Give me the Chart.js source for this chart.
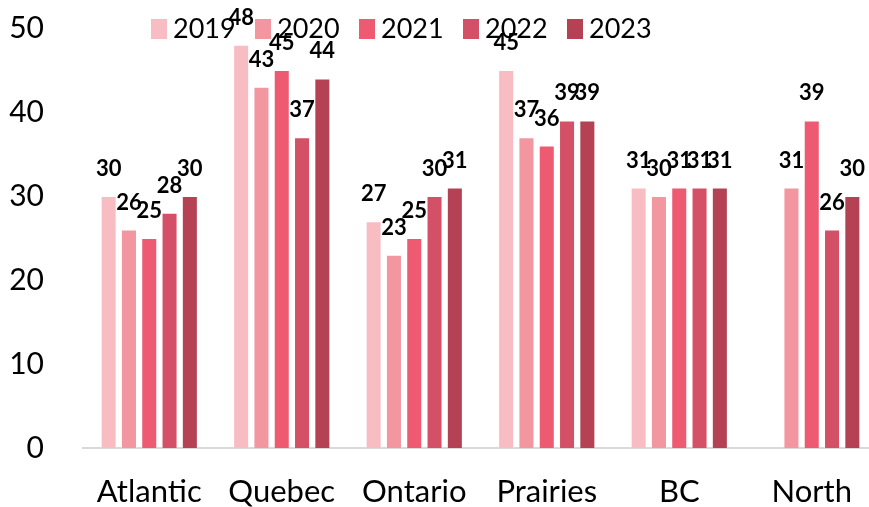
<!DOCTYPE html>
<html><head><meta charset="utf-8">
<script src="https://cdn.jsdelivr.net/npm/chart.js@4.4.1/dist/chart.umd.min.js"></script>
<style>
html,body{margin:0;padding:0;overflow:hidden;background:#fff;width:869px;height:507px}
#wrap{width:878px;height:507px}
</style></head>
<body><div id="wrap"><canvas id="c" width="878" height="507"></canvas></div>
<script>
const categories = ['Atlantic', 'Quebec', 'Ontario', 'Prairies', 'BC', 'North'];
const seriesNames = ['2019', '2020', '2021', '2022', '2023'];
const v2019 = [30, 48, 27, 45, 31, null];
const v2020 = [26, 43, 23, 37, 30, 31];
const v2021 = [25, 45, 25, 36, 31, 39];
const v2022 = [28, 37, 30, 39, 31, 26];
const v2023 = [30, 44, 31, 39, 31, 30];
const yTicks = [0, 10, 20, 30, 40, 50];
const colors = ['#f7bdc3', '#f2969f', '#ef5a73', '#d45066', '#b44254'];

const seriesValues = [v2019, v2020, v2021, v2022, v2023];

const valueLabels = {
  id: 'valueLabels',
  afterDatasetsDraw(chart) {
    const ctx = chart.ctx;
    ctx.save();
    ctx.font = 'bold 22px Lato';
    ctx.fillStyle = '#000';
    ctx.textAlign = 'center';
    ctx.textBaseline = 'alphabetic';
    chart.data.datasets.forEach((ds, i) => {
      chart.getDatasetMeta(i).data.forEach((bar, j) => {
        const v = ds.data[j];
        if (v == null) return;
        ctx.fillText(String(v), bar.x, bar.y - 20);
      });
    });
    ctx.restore();
  }
};

const topLegend = {
  id: 'topLegend',
  afterDraw(chart) {
    const ctx = chart.ctx;
    ctx.save();
    ctx.font = '27px Lato';
    ctx.textBaseline = 'alphabetic';
    ctx.textAlign = 'left';
    let x = 151;
    chart.data.datasets.forEach(ds => {
      ctx.fillStyle = ds.backgroundColor;
      ctx.fillRect(x, 19, 16, 20);
      ctx.fillStyle = '#000';
      ctx.fillText(ds.label, x + 22, 38);
      x += 104;
    });
    ctx.restore();
  }
};

new Chart(document.getElementById('c'), {
  type: 'bar',
  data: {
    labels: categories,
    datasets: seriesNames.map((name, i) => ({
      label: name,
      data: seriesValues[i],
      backgroundColor: colors[i],
      borderColor: 'rgba(255,255,255,0.3)',
      borderWidth: 1,
      categoryPercentage: 0.766,
      barPercentage: 0.79
    }))
  },
  options: {
    responsive: false,
    devicePixelRatio: 1,
    animation: false,
    layout: { padding: { top: 28, left: 0, right: 0, bottom: 0 } },
    plugins: { legend: { display: false }, tooltip: { enabled: false } },
    scales: {
      x: {
        grid: { display: false },
        border: { display: true, color: '#d9d9d9', width: 2 },
        ticks: { color: '#000', font: { family: 'Lato', size: 31 }, padding: 17, maxRotation: 0 },
        afterFit(s) { s.height = 59; s.paddingLeft = 0; s.paddingRight = 0; }
      },
      y: {
        min: 0, max: 50,
        grid: { display: false },
        border: { display: false },
        afterBuildTicks(s) { s.ticks = yTicks.map(v => ({ value: v })); },
        ticks: { color: '#000', font: { family: 'Lato', size: 30 }, padding: 31 },
        afterFit(s) { s.width = 83; s.paddingTop = 0; s.paddingBottom = 0; }
      }
    }
  },
  plugins: [valueLabels, topLegend]
});
</script>
</body></html>
